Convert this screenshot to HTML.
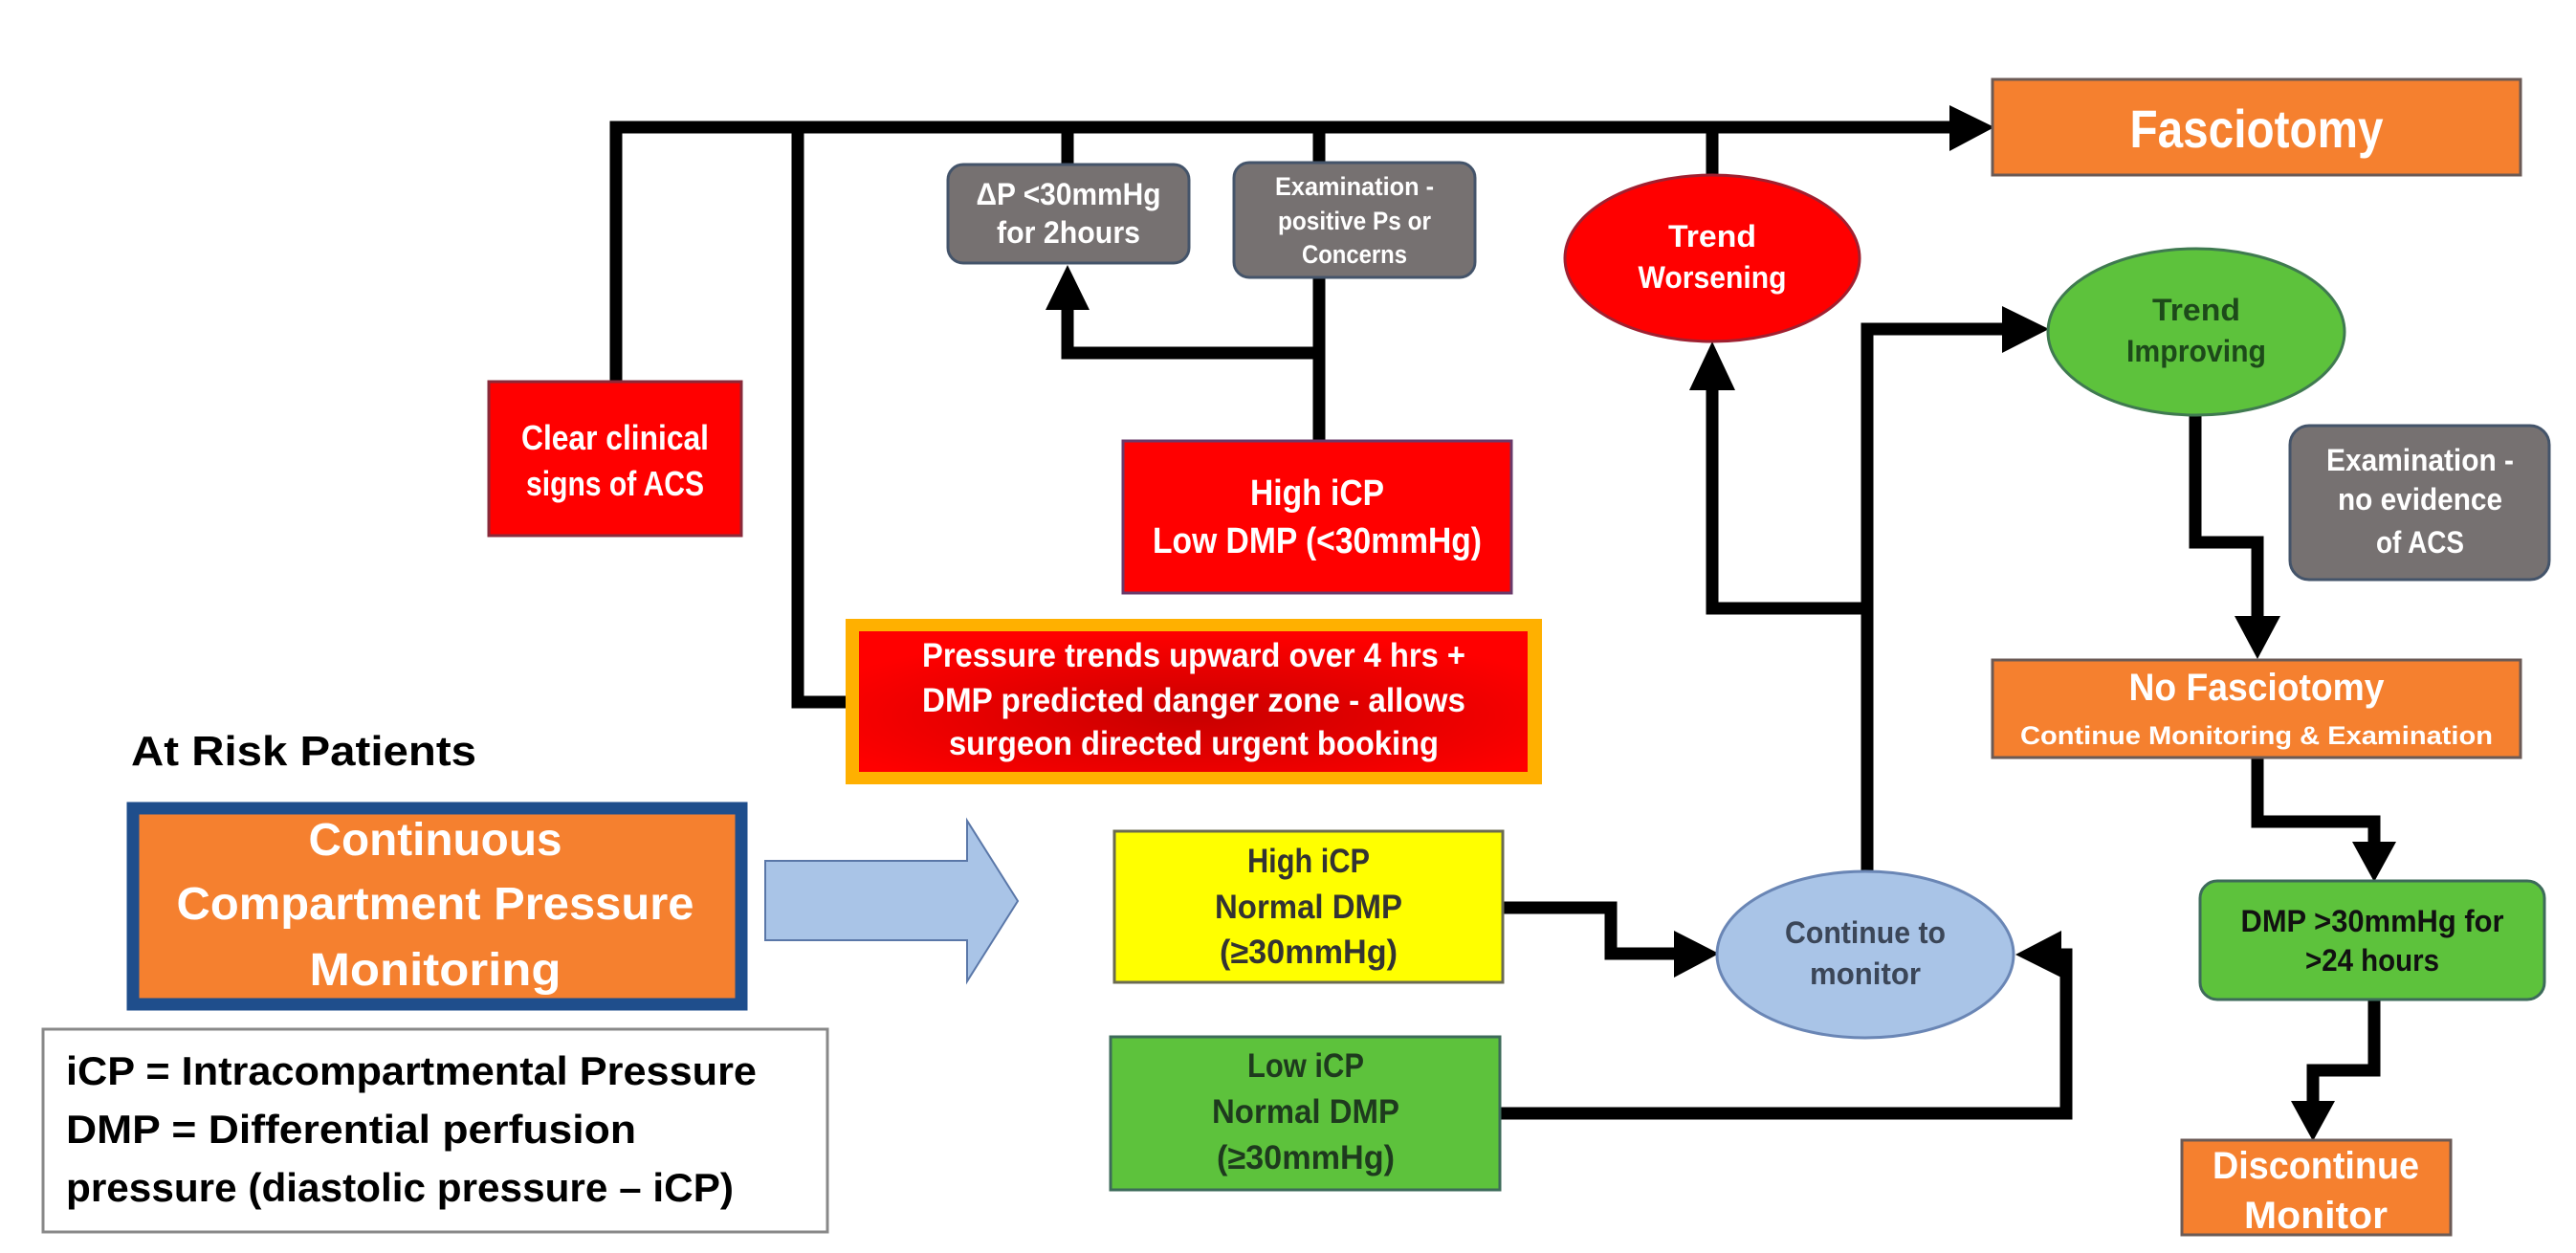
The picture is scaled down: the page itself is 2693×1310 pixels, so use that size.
<!DOCTYPE html>
<html><head><meta charset="utf-8"><style>html,body{margin:0;padding:0;background:#fff}svg{display:block}text{font-family:"Liberation Sans",sans-serif;font-weight:bold}</style></head><body>
<svg width="2693" height="1310" viewBox="0 0 2693 1310" xmlns="http://www.w3.org/2000/svg">
<defs>
<radialGradient id="rg" cx="50%" cy="60%" r="60%"><stop offset="0" stop-color="#c80000"/><stop offset="1" stop-color="#ff0000"/></radialGradient>
</defs>
<g fill="none" stroke="#000" stroke-width="13" stroke-linejoin="miter">
<polyline points="644,399 644,133 2040,133"/>
<polyline points="834,133 834,734 886,734"/>
<line x1="1116" y1="133" x2="1116" y2="172"/>
<line x1="1379" y1="133" x2="1379" y2="172"/>
<line x1="1790" y1="133" x2="1790" y2="183"/>
<polyline points="1379,290 1379,461"/>
<polyline points="1379,369 1116,369 1116,322"/>
<polyline points="1952,911 1952,344 2095,344"/>
<polyline points="1952,636 1790,636 1790,405"/>
<polyline points="1571,949 1684,949 1684,997 1752,997"/>
<polyline points="1568,1164 2160,1164 2160,998 2152,998"/>
<polyline points="2295,434 2295,567 2360,567 2360,646"/>
<polyline points="2360,792 2360,859 2482,859 2482,882"/>
<polyline points="2482,1045 2482,1119 2418,1119 2418,1153"/>
</g>
<g fill="#000">
<polygon points="2038,110 2085,133 2038,158"/>
<polygon points="1093,324 1139,324 1116,277"/>
<polygon points="1766,408 1814,408 1790,357"/>
<polygon points="2093,320 2142,344 2093,369"/>
<polygon points="1750,973 1797,997 1750,1022"/>
<polygon points="2155,973 2107,998 2155,1022"/>
<polygon points="2336,644 2384,644 2360,689"/>
<polygon points="2459,880 2505,880 2482,922"/>
<polygon points="2395,1151 2441,1151 2418,1193"/>
</g>
<!-- Fasciotomy -->
<rect x="2083" y="83" width="552" height="100" fill="#F5802F" stroke="#6b5a55" stroke-width="3"/>
<text x="2359" y="154" font-size="56" fill="#fff" text-anchor="middle" textLength="265" lengthAdjust="spacingAndGlyphs">Fasciotomy</text>
<!-- Clear clinical -->
<rect x="511" y="399" width="264" height="161" fill="#FF0000" stroke="#8a2a3a" stroke-width="3"/>
<text x="643" y="470" font-size="36" fill="#fff" text-anchor="middle" textLength="196" lengthAdjust="spacingAndGlyphs">Clear clinical</text>
<text x="643" y="518" font-size="36" fill="#fff" text-anchor="middle" textLength="186" lengthAdjust="spacingAndGlyphs">signs of ACS</text>
<!-- ΔP -->
<rect x="991" y="172" width="252" height="103" rx="16" fill="#767171" stroke="#44546A" stroke-width="3"/>
<text x="1117" y="214" font-size="32" fill="#fff" text-anchor="middle" textLength="193" lengthAdjust="spacingAndGlyphs">ΔP &lt;30mmHg</text>
<text x="1117" y="254" font-size="32" fill="#fff" text-anchor="middle" textLength="150" lengthAdjust="spacingAndGlyphs">for 2hours</text>
<!-- Exam positive -->
<rect x="1290" y="170" width="252" height="120" rx="16" fill="#767171" stroke="#44546A" stroke-width="3"/>
<text x="1416" y="204" font-size="27" fill="#fff" text-anchor="middle" textLength="166" lengthAdjust="spacingAndGlyphs">Examination -</text>
<text x="1416" y="240" font-size="27" fill="#fff" text-anchor="middle" textLength="160" lengthAdjust="spacingAndGlyphs">positive Ps or</text>
<text x="1416" y="275" font-size="27" fill="#fff" text-anchor="middle" textLength="110" lengthAdjust="spacingAndGlyphs">Concerns</text>
<!-- High iCP Low DMP -->
<rect x="1174" y="461" width="406" height="159" fill="#FF0000" stroke="#6a3a6a" stroke-width="3"/>
<text x="1377" y="528" font-size="38" fill="#fff" text-anchor="middle" textLength="140" lengthAdjust="spacingAndGlyphs">High iCP</text>
<text x="1377" y="578" font-size="38" fill="#fff" text-anchor="middle" textLength="344" lengthAdjust="spacingAndGlyphs">Low DMP (&lt;30mmHg)</text>
<!-- Pressure trends -->
<rect x="884" y="647" width="728" height="173" fill="#FFB000"/>
<rect x="898" y="660" width="699" height="147" fill="url(#rg)"/>
<text x="1248" y="697" font-size="35" fill="#fff" text-anchor="middle" textLength="568" lengthAdjust="spacingAndGlyphs">Pressure trends upward over 4 hrs +</text>
<text x="1248" y="744" font-size="35" fill="#fff" text-anchor="middle" textLength="568" lengthAdjust="spacingAndGlyphs">DMP predicted danger zone - allows</text>
<text x="1248" y="789" font-size="35" fill="#fff" text-anchor="middle" textLength="512" lengthAdjust="spacingAndGlyphs">surgeon directed urgent booking</text>
<!-- At risk -->
<text x="137" y="800" font-size="44" fill="#000" textLength="361" lengthAdjust="spacingAndGlyphs">At Risk Patients</text>
<rect x="139" y="845" width="636" height="205" fill="#F5802F" stroke="#1F4E8C" stroke-width="13"/>
<text x="455" y="894" font-size="48" fill="#fff" text-anchor="middle" textLength="265" lengthAdjust="spacingAndGlyphs">Continuous</text>
<text x="455" y="961" font-size="48" fill="#fff" text-anchor="middle" textLength="541" lengthAdjust="spacingAndGlyphs">Compartment Pressure</text>
<text x="455" y="1030" font-size="48" fill="#fff" text-anchor="middle" textLength="263" lengthAdjust="spacingAndGlyphs">Monitoring</text>
<!-- block arrow -->
<polygon points="800,900 1011,900 1011,858 1064,942 1011,1026 1011,983 800,983" fill="#A9C4E7" stroke="#5a77a8" stroke-width="2"/>
<!-- legend -->
<rect x="45" y="1076" width="820" height="212" fill="#fff" stroke="#888" stroke-width="3"/>
<text x="69" y="1134" font-size="42" fill="#000" textLength="722" lengthAdjust="spacingAndGlyphs">iCP = Intracompartmental Pressure</text>
<text x="69" y="1195" font-size="42" fill="#000" textLength="596" lengthAdjust="spacingAndGlyphs">DMP = Differential perfusion</text>
<text x="69" y="1256" font-size="42" fill="#000" textLength="698" lengthAdjust="spacingAndGlyphs">pressure (diastolic pressure – iCP)</text>
<!-- yellow -->
<rect x="1165" y="869" width="406" height="158" fill="#FFFF00" stroke="#6b6b50" stroke-width="3"/>
<text x="1368" y="912" font-size="35" fill="#333" text-anchor="middle" textLength="128" lengthAdjust="spacingAndGlyphs">High iCP</text>
<text x="1368" y="960" font-size="35" fill="#333" text-anchor="middle" textLength="196" lengthAdjust="spacingAndGlyphs">Normal DMP</text>
<text x="1368" y="1007" font-size="35" fill="#333" text-anchor="middle" textLength="186" lengthAdjust="spacingAndGlyphs">(≥30mmHg)</text>
<!-- green -->
<rect x="1161" y="1084" width="407" height="160" fill="#5DC23C" stroke="#3d6b5a" stroke-width="3"/>
<text x="1365" y="1126" font-size="35" fill="#1e3a1e" text-anchor="middle" textLength="122" lengthAdjust="spacingAndGlyphs">Low iCP</text>
<text x="1365" y="1174" font-size="35" fill="#1e3a1e" text-anchor="middle" textLength="196" lengthAdjust="spacingAndGlyphs">Normal DMP</text>
<text x="1365" y="1222" font-size="35" fill="#1e3a1e" text-anchor="middle" textLength="186" lengthAdjust="spacingAndGlyphs">(≥30mmHg)</text>
<!-- ellipses -->
<ellipse cx="1790" cy="270" rx="154" ry="87" fill="#FF0000" stroke="#a02030" stroke-width="3"/>
<text x="1790" y="258" font-size="32" fill="#fff" text-anchor="middle" textLength="92" lengthAdjust="spacingAndGlyphs">Trend</text>
<text x="1790" y="301" font-size="32" fill="#fff" text-anchor="middle" textLength="155" lengthAdjust="spacingAndGlyphs">Worsening</text>
<ellipse cx="2296" cy="347" rx="155" ry="87" fill="#5DC23C" stroke="#3f7a50" stroke-width="3"/>
<text x="2296" y="335" font-size="32" fill="#1d4a1a" text-anchor="middle" textLength="92" lengthAdjust="spacingAndGlyphs">Trend</text>
<text x="2296" y="378" font-size="32" fill="#1d4a1a" text-anchor="middle" textLength="146" lengthAdjust="spacingAndGlyphs">Improving</text>
<ellipse cx="1950" cy="998" rx="155" ry="87" fill="#A9C4E7" stroke="#6a86b5" stroke-width="3"/>
<text x="1950" y="986" font-size="32" fill="#3b4658" text-anchor="middle" textLength="168" lengthAdjust="spacingAndGlyphs">Continue to</text>
<text x="1950" y="1029" font-size="32" fill="#3b4658" text-anchor="middle" textLength="116" lengthAdjust="spacingAndGlyphs">monitor</text>
<!-- exam no evidence -->
<rect x="2394" y="445" width="271" height="161" rx="20" fill="#767171" stroke="#44546A" stroke-width="3"/>
<text x="2530" y="492" font-size="32" fill="#fff" text-anchor="middle" textLength="196" lengthAdjust="spacingAndGlyphs">Examination -</text>
<text x="2530" y="533" font-size="32" fill="#fff" text-anchor="middle" textLength="172" lengthAdjust="spacingAndGlyphs">no evidence</text>
<text x="2530" y="578" font-size="32" fill="#fff" text-anchor="middle" textLength="92" lengthAdjust="spacingAndGlyphs">of ACS</text>
<!-- No Fasciotomy -->
<rect x="2083" y="690" width="552" height="102" fill="#F5802F" stroke="#6b5a55" stroke-width="3"/>
<text x="2359" y="732" font-size="40" fill="#fff" text-anchor="middle" textLength="267" lengthAdjust="spacingAndGlyphs">No Fasciotomy</text>
<text x="2359" y="778" font-size="27" fill="#fff" text-anchor="middle" textLength="494" lengthAdjust="spacingAndGlyphs">Continue Monitoring &amp; Examination</text>
<!-- DMP box -->
<rect x="2300" y="921" width="360" height="124" rx="18" fill="#5DC23C" stroke="#3d6b5a" stroke-width="3"/>
<text x="2480" y="974" font-size="32" fill="#111" text-anchor="middle" textLength="275" lengthAdjust="spacingAndGlyphs">DMP &gt;30mmHg for</text>
<text x="2480" y="1015" font-size="32" fill="#111" text-anchor="middle" textLength="140" lengthAdjust="spacingAndGlyphs">&gt;24 hours</text>
<!-- Discontinue -->
<rect x="2281" y="1192" width="281" height="99" fill="#F5802F" stroke="#6b5a55" stroke-width="3"/>
<text x="2421" y="1232" font-size="40" fill="#fff" text-anchor="middle" textLength="216" lengthAdjust="spacingAndGlyphs">Discontinue</text>
<text x="2421" y="1284" font-size="40" fill="#fff" text-anchor="middle" textLength="150" lengthAdjust="spacingAndGlyphs">Monitor</text>
</svg>
</body></html>
